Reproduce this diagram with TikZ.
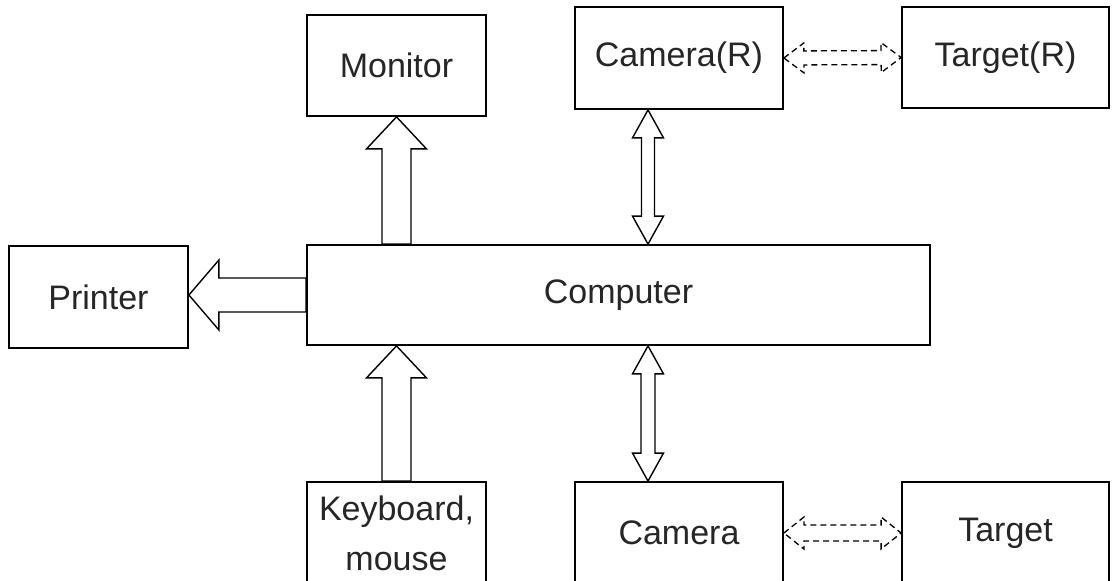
\documentclass[tikz,border=0pt]{standalone}
\usepackage{fontspec}
\setmainfont{Liberation Sans}
\usetikzlibrary{calc}
\tikzset{
  box/.style={draw=black, line width=1.8pt, inner sep=0pt, align=center,
    text=black!85, font=\fontsize{34}{50}\selectfont},
  blk/.style={draw=black, line width=1.4pt, line join=miter},
  dsh/.style={draw=black, line width=1.3pt, dash pattern=on 6pt off 4pt}
}
% single block arrow: tail, tip, half shaft, half head, head length
\newcommand{\blockarrow}[5]{%
  \coordinate (bac) at ($(#2)!#5!(#1)$);
  \draw[blk] ($(#1)!#3!90:(#2)$) -- ($(bac)!#3!90:(#2)$) -- ($(bac)!#4!90:(#2)$)
    -- (#2) -- ($(bac)!#4!-90:(#2)$) -- ($(bac)!#3!-90:(#2)$) -- ($(#1)!#3!-90:(#2)$) -- cycle;
}
% double block arrow: style, tip A, tip B, half shaft, half head, head length
\newcommand{\dblarrow}[6]{%
  \coordinate (daa) at ($(#2)!#6!(#3)$);
  \coordinate (dab) at ($(#3)!#6!(#2)$);
  \draw[#1] (#2) -- ($(daa)!#5!90:(#3)$) -- ($(daa)!#4!90:(#3)$) -- ($(dab)!#4!-90:(#2)$)
    -- ($(dab)!#5!-90:(#2)$) -- (#3) -- ($(dab)!#5!90:(#2)$) -- ($(dab)!#4!90:(#2)$)
    -- ($(daa)!#4!-90:(#3)$) -- ($(daa)!#5!-90:(#3)$) -- cycle;
}
\begin{document}
\begin{tikzpicture}[x=1pt,y=-1pt]
\clip (0,0) rectangle (1117,581);
\fill[white] (0,0) rectangle (1117,581);
% boxes
\node[box, minimum width=179pt, minimum height=101pt] (mon)  at (396.5,65.5) {Monitor};
\node[box, minimum width=208pt, minimum height=102pt] (camR) at (679,58) {Camera(R)};
\node[box, minimum width=207pt, minimum height=101pt] (tgtR) at (1005.5,57.5) {Target(R)};
\node[box, minimum width=179pt, minimum height=102pt] (prn)  at (98.5,297) {Printer};
\node[box, minimum width=623pt, minimum height=100pt] (comp) at (618.5,295) {Computer};
\node[box, minimum width=179pt, minimum height=102pt] (kbd)  at (396.5,533) {Keyboard,\\mouse};
\node[box, minimum width=208pt, minimum height=102pt] (cam)  at (679,533) {Camera};
\node[box, minimum width=207pt, minimum height=102pt] (tgt)  at (1005.5,533) {Target};
% anchor coordinates
\coordinate (monT) at (mon.south |- comp.north);
\coordinate (prnT) at (prn.east |- comp.west);
\coordinate (kbdT) at (kbd.north |- comp.south);
\coordinate (crA) at ($(camR.south)+(-31,0)$);
\coordinate (crB) at (crA |- comp.north);
\coordinate (cA) at ($(cam.north)+(-31,0)$);
\coordinate (cB) at (cA |- comp.south);
% block arrows
\blockarrow{monT}{mon.south}{14.5pt}{30pt}{32pt}
\blockarrow{comp.west}{prnT}{17pt}{35pt}{30pt}
\blockarrow{kbd.north}{kbdT}{14.5pt}{30pt}{32pt}
\dblarrow{blk}{crA}{crB}{6.5pt}{15.5pt}{28pt}
\dblarrow{blk}{cB}{cA}{7pt}{15.5pt}{28pt}
% dashed double arrows
\dblarrow{dsh}{camR.east}{tgtR.west}{7pt}{15pt}{20pt}
\dblarrow{dsh}{cam.east}{tgt.west}{8pt}{16pt}{20pt}
\end{tikzpicture}
\end{document}
